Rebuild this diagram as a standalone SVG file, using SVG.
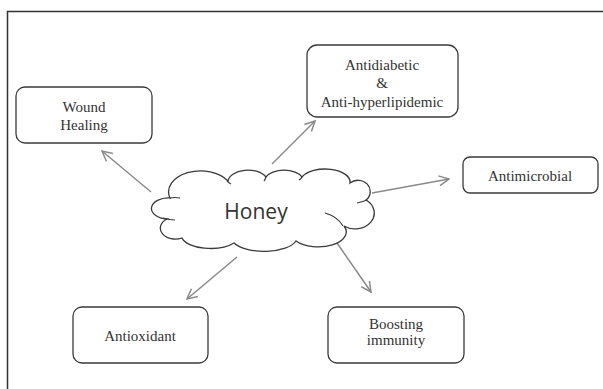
<svg xmlns="http://www.w3.org/2000/svg" width="603" height="389" viewBox="0 0 603 389">
<defs>
<style>
.box{fill:#fff;stroke:#3a3a3a;stroke-width:1.3}
.lbl{font-family:"Liberation Serif","Times New Roman",serif;font-size:15px;fill:#333;text-anchor:middle}
.con{stroke:#8a8a8a;stroke-width:1.5;fill:none;marker-end:url(#ah)}
.cloud{fill:#fff;stroke:#3a3a3a;stroke-width:1.3}
.inner{fill:none;stroke:#3a3a3a;stroke-width:1.2}
</style>
<marker id="ah" viewBox="0 0 12 12" refX="11" refY="6" markerWidth="12" markerHeight="12" markerUnits="userSpaceOnUse" orient="auto">
<polyline points="1,1 11,6 1,11" fill="none" stroke="#8a8a8a" stroke-width="1.5"/>
</marker>
</defs>
<rect width="603" height="389" fill="#fff"/>
<path d="M7.5,389 V11.5 H603" fill="none" stroke="#333" stroke-width="1.5"/>
<g id="connectors">
<line class="con" x1="151" y1="192" x2="102" y2="151"/>
<line class="con" x1="272" y1="164" x2="315" y2="121"/>
<line class="con" x1="372" y1="193" x2="449" y2="179"/>
<line class="con" x1="237" y1="257" x2="187" y2="299"/>
<line class="con" x1="337" y1="243" x2="371" y2="292"/>
</g>
<g id="honey">
<path class="cloud" d="M170,198 A32 21 0 0 1 228,181 A20 12 0 0 1 266,177 A19 10 0 0 1 302,177 A25 13 0 0 1 350,183 A12 11 0 0 1 366,200 A17 14 0 0 1 344,226 A28 15 0 0 1 296,241 A33 14 0 0 1 234,243 A29 13 0 0 1 182,238 A15 11 0 0 1 167,219 A17 10.5 0 0 1 170,198 Z"/>
<path class="inner" d="M163,218 Q169,220 175,220"/>
<path class="inner" d="M357,203 Q362,202 367,200"/>
<path class="inner" d="M325,213 Q337,216 343,226"/>
<path class="inner" d="M227,181 Q229,183 231,184"/>
<path class="inner" d="M266,177 Q265,180 264,181"/>
<path class="inner" d="M302,177 Q301,179 299,180"/>
<path class="inner" d="M170,198 Q175,197 180,198"/>
<text x="256" y="219" font-family="'Open Sans','Noto Sans',sans-serif" font-size="21" fill="#333" text-anchor="middle">Honey</text>
</g>
<g id="wound">
<rect class="box" x="16" y="87" width="136" height="56" rx="9"/>
<text class="lbl" x="84" y="112">Wound</text>
<text class="lbl" x="84" y="130">Healing</text>
</g>
<g id="antidiabetic">
<rect class="box" x="307" y="45" width="151" height="72" rx="10"/>
<text class="lbl" x="382" y="70">Antidiabetic</text>
<text class="lbl" x="382" y="88">&amp;</text>
<text class="lbl" x="382" y="107">Anti-hyperlipidemic</text>
</g>
<g id="antimicrobial">
<rect class="box" x="463" y="157" width="135" height="36" rx="7"/>
<text class="lbl" x="530" y="181">Antimicrobial</text>
</g>
<g id="antioxidant">
<rect class="box" x="73" y="307" width="135" height="56" rx="9"/>
<text class="lbl" x="140" y="341">Antioxidant</text>
</g>
<g id="boosting">
<rect class="box" x="328" y="307" width="136" height="56" rx="9"/>
<text class="lbl" x="396" y="329">Boosting</text>
<text class="lbl" x="396" y="345">immunity</text>
</g>
</svg>
